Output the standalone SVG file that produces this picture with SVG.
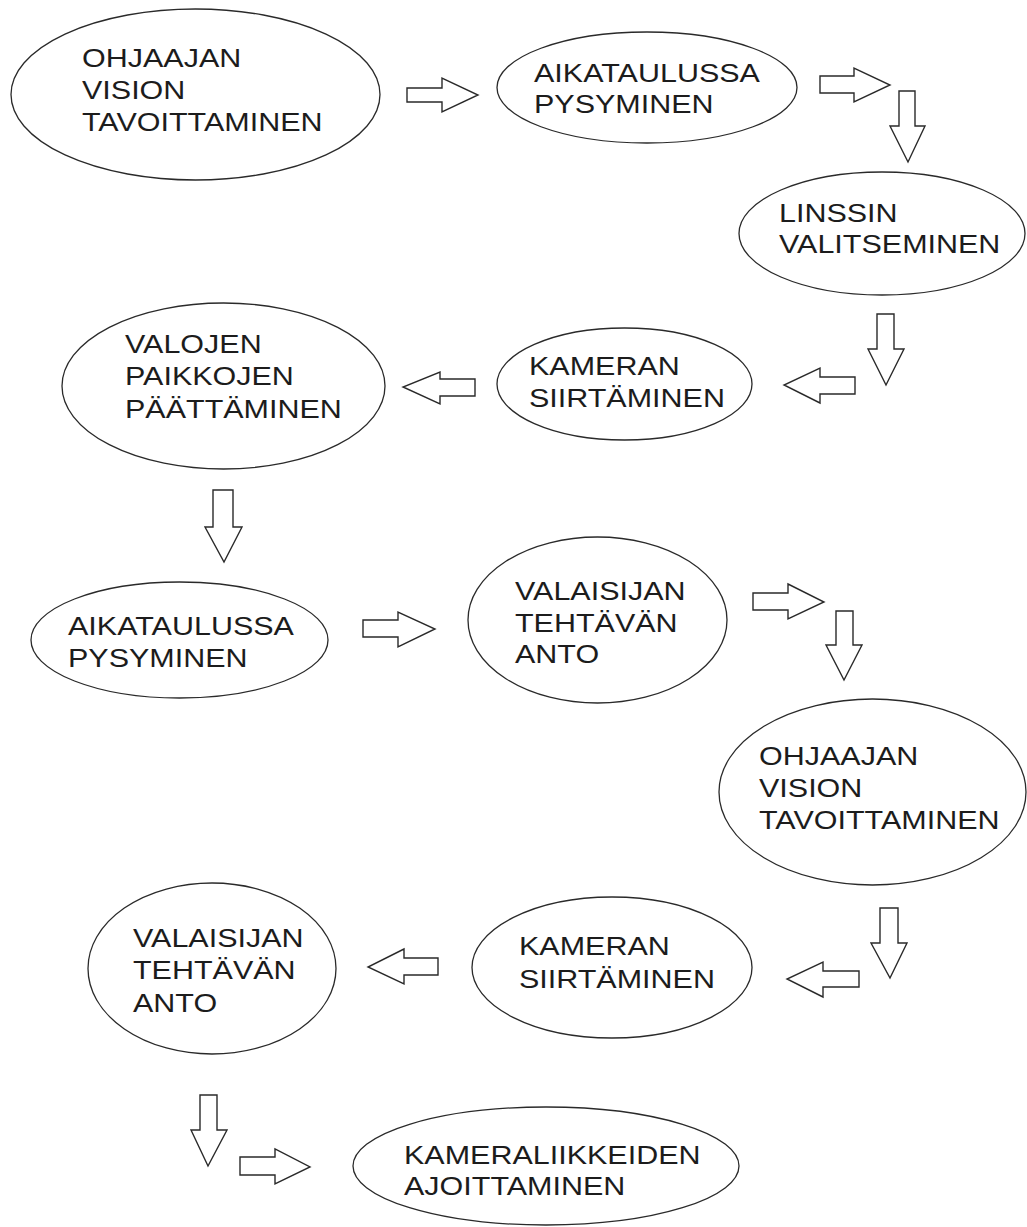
<svg xmlns="http://www.w3.org/2000/svg" width="1027" height="1227" viewBox="0 0 1027 1227">
  <style>
    .node ellipse { fill: #ffffff; stroke: #2a2a2a; stroke-width: 1.3; }
    .node text { font-family: "Liberation Sans", Arial, sans-serif; font-size: 25px; fill: #1c1c1c; }
    .arrow { fill: #ffffff; stroke: #2a2a2a; stroke-width: 1.4; stroke-linejoin: miter; }
  </style>
  <rect width="1027" height="1227" fill="#ffffff"/>

  <!-- block arrows between the steps -->
  <g id="connectors">
    <polygon class="arrow" points="407,88 442,88 442,78 478,95 442,112 442,102 407,102"/>
    <polygon class="arrow" points="820,76 854,76 854,68 890,85 854,102 854,93 820,93"/>
    <polygon class="arrow" points="899,91 915,91 915,126 925,126 908,162 890,126 899,126"/>
    <polygon class="arrow" points="877,314 894,314 894,349 904,349 886,385 868,349 877,349"/>
    <polygon class="arrow" points="855,377 820,377 820,368 784,385 820,403 820,394 855,394"/>
    <polygon class="arrow" points="475,379 440,379 440,372 403,387 440,404 440,396 475,396"/>
    <polygon class="arrow" points="213,490 233,490 233,527 242,527 224,562 205,527 213,527"/>
    <polygon class="arrow" points="363,620 398,620 398,612 435,629 398,647 398,637 363,637"/>
    <polygon class="arrow" points="753,593 788,593 788,584 824,602 788,619 788,610 753,610"/>
    <polygon class="arrow" points="836,611 853,611 853,645 862,645 844,680 826,645 836,645"/>
    <polygon class="arrow" points="880,908 898,908 898,943 907,943 890,978 871,943 880,943"/>
    <polygon class="arrow" points="859,971 823,971 823,962 787,979 823,997 823,987 859,987"/>
    <polygon class="arrow" points="438,958 404,958 404,949 368,967 404,984 404,975 438,975"/>
    <polygon class="arrow" points="200,1095 217,1095 217,1130 227,1130 208,1166 191,1130 200,1130"/>
    <polygon class="arrow" points="240,1157 275,1157 275,1149 310,1167 275,1184 275,1175 240,1175"/>
  </g>

  <g id="n1" class="node">
    <ellipse cx="195.5" cy="94.5" rx="184.5" ry="85.5"/>
    <text transform="translate(82 67) scale(1.22 1)"><tspan x="0" y="0">OHJAAJAN</tspan><tspan x="0" y="32">VISION</tspan><tspan x="0" y="64">TAVOITTAMINEN</tspan></text>
  </g>

  <g id="n2" class="node">
    <ellipse cx="647" cy="87.5" rx="150" ry="55.5"/>
    <text transform="translate(534 82) scale(1.22 1)"><tspan x="0" y="0">AIKATAULUSSA</tspan><tspan x="0" y="31">PYSYMINEN</tspan></text>
  </g>

  <g id="n3" class="node">
    <ellipse cx="882" cy="233.5" rx="143" ry="61.5"/>
    <text transform="translate(779 222) scale(1.22 1)"><tspan x="0" y="0">LINSSIN</tspan><tspan x="0" y="31">VALITSEMINEN</tspan></text>
  </g>

  <g id="n4" class="node">
    <ellipse cx="624.5" cy="384" rx="127.5" ry="56"/>
    <text transform="translate(529 375) scale(1.22 1)"><tspan x="0" y="0">KAMERAN</tspan><tspan x="0" y="32">SIIRTÄMINEN</tspan></text>
  </g>

  <g id="n5" class="node">
    <ellipse cx="223.5" cy="386" rx="161.5" ry="83"/>
    <text transform="translate(125 353) scale(1.22 1)"><tspan x="0" y="0">VALOJEN</tspan><tspan x="0" y="32.5">PAIKKOJEN</tspan><tspan x="0" y="65">PÄÄTTÄMINEN</tspan></text>
  </g>

  <g id="n6" class="node">
    <ellipse cx="179.5" cy="640" rx="148.5" ry="58"/>
    <text transform="translate(68 635) scale(1.22 1)"><tspan x="0" y="0">AIKATAULUSSA</tspan><tspan x="0" y="32">PYSYMINEN</tspan></text>
  </g>

  <g id="n7" class="node">
    <ellipse cx="597.5" cy="620" rx="129.5" ry="83"/>
    <text transform="translate(515 600) scale(1.22 1)"><tspan x="0" y="0">VALAISIJAN</tspan><tspan x="0" y="32">TEHTÄVÄN</tspan><tspan x="0" y="63">ANTO</tspan></text>
  </g>

  <g id="n8" class="node">
    <ellipse cx="872.5" cy="792" rx="153.5" ry="93"/>
    <text transform="translate(759 765) scale(1.22 1)"><tspan x="0" y="0">OHJAAJAN</tspan><tspan x="0" y="32">VISION</tspan><tspan x="0" y="64">TAVOITTAMINEN</tspan></text>
  </g>

  <g id="n9" class="node">
    <ellipse cx="612" cy="967.5" rx="140" ry="70.5"/>
    <text transform="translate(519 955) scale(1.22 1)"><tspan x="0" y="0">KAMERAN</tspan><tspan x="0" y="33">SIIRTÄMINEN</tspan></text>
  </g>

  <g id="n10" class="node">
    <ellipse cx="212" cy="968.5" rx="124" ry="85.5"/>
    <text transform="translate(133 947) scale(1.22 1)"><tspan x="0" y="0">VALAISIJAN</tspan><tspan x="0" y="32.5">TEHTÄVÄN</tspan><tspan x="0" y="65">ANTO</tspan></text>
  </g>

  <g id="n11" class="node">
    <ellipse cx="546" cy="1166" rx="193" ry="59"/>
    <text transform="translate(404 1164) scale(1.22 1)"><tspan x="0" y="0">KAMERALIIKKEIDEN</tspan><tspan x="0" y="31">AJOITTAMINEN</tspan></text>
  </g>
</svg>
